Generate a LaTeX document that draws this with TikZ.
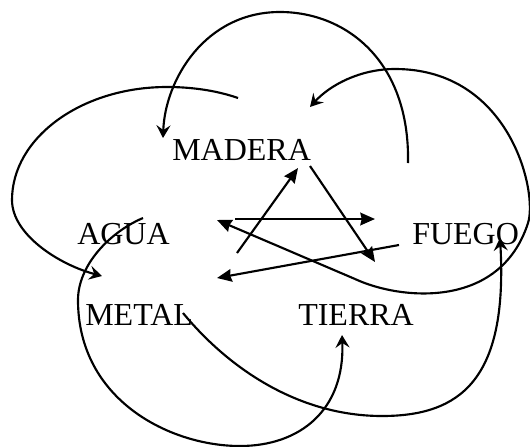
\documentclass[tikz,border=0pt]{standalone}
\usepackage{fontspec}
\setmainfont{Liberation Serif}
\usetikzlibrary{arrows.meta}

\begin{document}
\begin{tikzpicture}[x=0.75pt, y=-0.75pt,
    arr/.style={-{Stealth[length=11pt, width=9.5pt, inset=1pt]}, line width=1.6pt},
    carr/.style={-{Stealth[length=9.5pt, width=10.5pt, inset=3.5pt]}, line width=1.6pt},
    lbl/.style={anchor=base west, inner sep=0pt, font=\fontsize{24}{28}\selectfont},
  ]
    \useasboundingbox (0,0) rectangle (530,446);

    % Elements
    \node[lbl] (madera) at (172,160) {MADERA};
    \node[lbl] (agua) at (77,244) {AGUA};
    \node[lbl] (fuego) at (412,244) {FUEGO};
    \node[lbl] (metal) at (85,325) {METAL};
    \node[lbl] (tierra) at (298,325) {TIERRA};

    % Connector ends
    \coordinate (ma-in) at (298,168);
    \coordinate (ma-out) at (310,166);
    \coordinate (ma-top) at (238,98);
    \coordinate (ma-left) at (163,138);
    \coordinate (ma-right) at (310,107);
    \coordinate (ag-out) at (235,219);
    \coordinate (ag-in) at (217,220);
    \coordinate (ag-arc) at (143,218);
    \coordinate (ag-me) at (102,276);
    \coordinate (fu-in) at (375,219);
    \coordinate (fu-out) at (399,245);
    \coordinate (fu-top) at (408,163);
    \coordinate (fu-o) at (500,238);
    \coordinate (me-in) at (217,278);
    \coordinate (me-out) at (237,253);
    \coordinate (me-l) at (183,313);
    \coordinate (ti-in) at (375,262);
    \coordinate (ti-out) at (355,279);
    \coordinate (ti-bot) at (342,335);

    % Star
    \draw[arr] (me-out) -- (ma-in);
    \draw[arr] (ma-out) -- (ti-in);
    \draw[arr] (ag-out) -- (fu-in);
    \draw[arr] (fu-out) -- (me-in);
    \draw[arr] (ti-out) -- (ag-in);

    % Outer arcs
    \draw[carr] (ma-top) .. controls (215,90) and (190,87) .. (167,87)
      .. controls (81,87) and (12,138) .. (12,200)
      .. controls (12,235) and (60,265) .. (ag-me);
    \draw[carr] (fu-top) .. controls (410,60) and (345,12) .. (280,12)
      .. controls (205,12) and (165,80) .. (ma-left);
    \draw[carr] (ti-out) .. controls (400,300) and (500,310) .. (528,223)
      .. controls (538,192) and (510,69) .. (395,69)
      .. controls (360,69) and (330,85) .. (ma-right);
    \draw[carr] (me-l) .. controls (230,370) and (300,416) .. (382,416)
      .. controls (460,416) and (508,380) .. (fu-o);
    \draw[carr] (ag-arc) .. controls (110,232) and (78,265) .. (78,300)
      .. controls (78,400) and (170,446) .. (240,446)
      .. controls (300,446) and (345,410) .. (ti-bot);
\end{tikzpicture}
\end{document}
